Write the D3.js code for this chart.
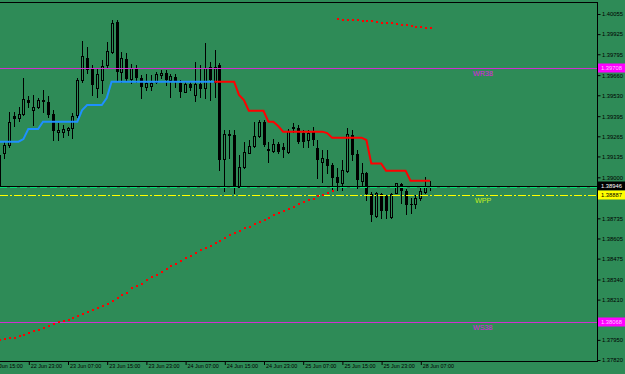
<!DOCTYPE html>
<html><head><meta charset="utf-8">
<script src="https://cdn.jsdelivr.net/npm/d3@7"></script>
<style>html,body{margin:0;padding:0;background:#2E8B57;overflow:hidden}svg{display:block}text{font-family:"Liberation Sans",Arial,sans-serif}</style>
</head><body>
<svg id="c" width="625" height="374"></svg>
<script>
// ---- data (H1 chart, prices) ----
const opens = [1.38950,1.39155,1.39209,1.39398,1.39381,1.39409,1.39499,1.39437,1.39456,1.39499,
1.39488,1.39407,1.39295,1.39295,1.39306,1.39317,1.39403,1.39629,1.39773,1.39704,
1.39575,1.39629,1.39726,1.39811,1.40001,1.39678,1.39764,1.39635,1.39708,1.39643,
1.39585,1.39592,1.39618,1.39661,1.39676,1.39629,1.39650,1.39607,1.39553,1.39603,
1.39532,1.39603,1.39575,1.39715,1.39618,1.39726,1.39116,1.39278,1.39273,1.38939,
1.39069,1.39159,1.39202,1.39267,1.39359,1.39181,1.39172,1.39215,1.39198,1.39165,
1.39327,1.39317,1.39288,1.39241,1.39295,1.39187,1.39101,1.39116,1.39080,1.39004,
1.38965,1.39043,1.39273,1.39149,1.38978,1.39026,1.38892,1.38752,1.38892,1.38879,
1.38742,1.38901,1.38957,1.38914,1.38828,1.38828,1.38864,1.38907,1.38944];
const highs = [1.39176,1.39235,1.39424,1.39424,1.39456,1.39640,1.39525,1.39532,1.39510,1.39564,
1.39525,1.39435,1.39351,1.39338,1.39327,1.39414,1.39640,1.39881,1.39844,1.39726,
1.39704,1.39758,1.39876,1.40016,1.40016,1.39808,1.39806,1.39730,1.39726,1.39661,
1.39665,1.39661,1.39682,1.39693,1.39693,1.39665,1.39665,1.39629,1.39618,1.39618,
1.39747,1.39726,1.39866,1.39747,1.39822,1.39737,1.39306,1.39306,1.39306,1.39144,
1.39230,1.39241,1.39359,1.39370,1.39370,1.39230,1.39246,1.39230,1.39220,1.39310,
1.39353,1.39338,1.39306,1.39306,1.39323,1.39241,1.39176,1.39176,1.39090,1.39058,
1.39112,1.39317,1.39306,1.39176,1.39090,1.39036,1.38907,1.38907,1.38897,1.38886,
1.38897,1.38965,1.38961,1.38925,1.38864,1.38883,1.38929,1.39002,1.38979];
const lows = [1.38937,1.39127,1.39198,1.39331,1.39364,1.39403,1.39456,1.39338,1.39446,1.39424,
1.39392,1.39241,1.39241,1.39262,1.39273,1.39252,1.39392,1.39618,1.39672,1.39532,
1.39521,1.39543,1.39704,1.39803,1.39629,1.39618,1.39625,1.39607,1.39618,1.39514,
1.39564,1.39564,1.39607,1.39640,1.39596,1.39521,1.39585,1.39521,1.39549,1.39564,
1.39493,1.39521,1.39510,1.39499,1.39521,1.39047,1.38912,1.39125,1.38897,1.38937,
1.39058,1.39155,1.39198,1.39260,1.39202,1.39101,1.39165,1.39155,1.39133,1.39159,
1.39295,1.39224,1.39198,1.39198,1.39209,1.38994,1.38972,1.39026,1.38918,1.38918,
1.38918,1.39036,1.39112,1.38929,1.38950,1.38853,1.38720,1.38746,1.38739,1.38739,
1.38735,1.38897,1.38832,1.38765,1.38768,1.38799,1.38853,1.38897,1.38918];
const closes = [1.39144,1.39209,1.39359,1.39379,1.39411,1.39504,1.39482,1.39452,1.39498,1.39488,
1.39403,1.39299,1.39306,1.39310,1.39317,1.39396,1.39629,1.39786,1.39693,1.39596,
1.39665,1.39721,1.39816,1.39995,1.39678,1.39769,1.39637,1.39704,1.39643,1.39585,
1.39607,1.39607,1.39665,1.39672,1.39629,1.39654,1.39618,1.39553,1.39603,1.39575,
1.39603,1.39570,1.39704,1.39629,1.39715,1.39112,1.39278,1.39267,1.38939,1.39069,
1.39165,1.39202,1.39267,1.39359,1.39209,1.39172,1.39215,1.39165,1.39176,1.39301,
1.39310,1.39230,1.39230,1.39288,1.39241,1.39112,1.39123,1.39073,1.38994,1.38961,
1.39047,1.39280,1.39144,1.38983,1.39026,1.38892,1.38757,1.38897,1.38782,1.38784,
1.38892,1.38961,1.38914,1.38818,1.38821,1.38864,1.38912,1.38944,1.38946];
// trend line (blue while rising, red while falling)
const trendLine = [1.39230,1.39230,1.39230,1.39230,1.39230,1.39247,1.39312,1.39312,1.39312,1.39359,
1.39359,1.39359,1.39359,1.39359,1.39359,1.39359,1.39359,1.39435,1.39467,1.39467,
1.39467,1.39467,1.39512,1.39618,1.39618,1.39618,1.39618,1.39618,1.39618,1.39618,
1.39618,1.39618,1.39618,1.39618,1.39618,1.39618,1.39618,1.39618,1.39618,1.39618,
1.39618,1.39618,1.39618,1.39618,1.39618,1.39618,1.39618,1.39618,1.39618,1.39532,
1.39499,1.39430,1.39430,1.39430,1.39430,1.39359,1.39359,1.39331,1.39295,1.39295,
1.39295,1.39295,1.39295,1.39295,1.39295,1.39295,1.39295,1.39286,1.39256,1.39256,
1.39256,1.39256,1.39256,1.39256,1.39256,1.39241,1.39090,1.39090,1.39090,1.39043,
1.39043,1.39043,1.39043,1.39043,1.38978,1.38978,1.38978,1.38978,1.38978];
const trendFlipBar = 44;
// parabolic SAR dots
const sar = [1.37949,1.37955,1.37960,1.37964,1.37973,1.37983,1.37996,1.38005,1.38014,1.38027,
1.38039,1.38050,1.38063,1.38074,1.38080,1.38093,1.38106,1.38117,1.38130,1.38145,
1.38158,1.38171,1.38183,1.38201,1.38218,1.38238,1.38253,1.38283,1.38298,1.38313,
1.38335,1.38354,1.38369,1.38388,1.38406,1.38425,1.38440,1.38461,1.38477,1.38492,
1.38511,1.38528,1.38541,1.38558,1.38574,1.38591,1.38608,1.38625,1.38638,1.38655,
1.38671,1.38681,1.38698,1.38711,1.38726,1.38739,1.38757,1.38768,1.38784,1.38797,
1.38810,1.38826,1.38839,1.38852,1.38862,1.38879,1.38888,1.38901,1.38914,
1.40020,1.40019,1.40018,1.40016,1.40014,1.40012,1.40009,1.40007,1.40003,1.40000,
1.39997,1.39994,1.39990,1.39986,1.39982,1.39978,1.39974,1.39970,1.39966,1.39963];
// levels
const pivotNames = ["WR38","WS38"];
const pivotPrices = [1.39708, 1.38068];
const wppPrice = 1.38887;
const bidPrice = 1.38946;
const openLinePrice = 1.38937;
// axis ticks
const priceTicks = [1.40055,1.39925,1.39795,1.39660,1.39530,1.39395,1.39265,1.39135,1.39000,
1.38735,1.38605,1.38475,1.38340,1.38210,1.37950,1.37820];
const timeTickBars = [-2,6,14,22,30,38,46,54,62,70,78,86];
const timeTickLabels = ["22 Jun 15:00","22 Jun 23:00","23 Jun 07:00","23 Jun 15:00","23 Jun 23:00",
"24 Jun 07:00","24 Jun 15:00","24 Jun 23:00","25 Jun 07:00","25 Jun 15:00","25 Jun 23:00","28 Jun 07:00"];

// ---- drawing ----
const BG = "#2E8B57";
const svg = d3.select("#c");
const plotR = 597, plotB = 361, plotT = 2;
const x = d3.scaleLinear().domain([0, 88]).range([-1.1, 430.1]);
const y = d3.scaleLinear().domain([1.37820, 1.40055]).range([360, 14]);
const fmt = d3.format(".5f");
const FS = 5.8;

svg.append("rect").attr("width",625).attr("height",374).attr("fill",BG);
svg.append("clipPath").attr("id","clip").append("rect")
  .attr("x",0).attr("y",plotT).attr("width",plotR).attr("height",plotB-plotT);
const g = svg.append("g").attr("clip-path","url(#clip)");

// candles
const cg = g.append("g");
d3.range(opens.length).forEach(i=>{
  const cx = Math.round(x(i));
  cg.append("line").attr("x1",cx+0.5).attr("x2",cx+0.5)
    .attr("y1",Math.round(y(highs[i]))).attr("y2",Math.round(y(lows[i]))+1)
    .attr("stroke","#000").attr("stroke-width",1);
  const top = Math.round(y(Math.max(opens[i],closes[i])));
  const bot = Math.round(y(Math.min(opens[i],closes[i])));
  if (closes[i] >= opens[i]) {
    cg.append("rect").attr("x",cx-0.5).attr("y",top+0.5).attr("width",2)
      .attr("height",Math.max(0,bot-top)).attr("fill",BG).attr("stroke","#000").attr("stroke-width",1);
  } else {
    cg.append("rect").attr("x",cx-1).attr("y",top).attr("width",3)
      .attr("height",Math.max(1,bot-top)).attr("fill","#000");
  }
});

// horizontal level lines
pivotPrices.forEach((p,k)=>{
  const yy = Math.round(y(p))+0.5;
  g.append("line").attr("x1",0).attr("x2",plotR).attr("y1",yy).attr("y2",yy)
    .attr("stroke","#D030D0").attr("stroke-width",1);
  g.append("text").attr("x",473).attr("y",yy+7.5).attr("fill","#E020E0")
    .attr("font-size",7.2).text(pivotNames[k]);
});
{
  const yb = Math.round(y(bidPrice))+0.5;
  g.append("line").attr("x1",0).attr("x2",plotR).attr("y1",yb).attr("y2",yb).attr("stroke","#000");
  const yo = Math.round(y(openLinePrice))+0.5;
  g.append("line").attr("x1",0).attr("x2",plotR).attr("y1",yo).attr("y2",yo)
    .attr("stroke","#00E676").attr("stroke-width",1).attr("stroke-dasharray","7,3");
  const yw = Math.round(y(wppPrice))+0.5;
  g.append("line").attr("x1",0).attr("x2",plotR).attr("y1",yw).attr("y2",yw)
    .attr("stroke","#FFFF00").attr("stroke-width",1).attr("stroke-dasharray","8,2,2,2");
  g.append("text").attr("x",475).attr("y",yw+7.5).attr("fill","#C8F020")
    .attr("font-size",7.2).text("WPP");
}

// trend line
const line = d3.line().x(i=>x(i)).y(i=>y(trendLine[i]));
g.append("path").attr("d",line(d3.range(0,trendFlipBar+1))).attr("fill","none")
  .attr("stroke","#1E90FF").attr("stroke-width",2);
g.append("path").attr("d",line(d3.range(trendFlipBar,trendLine.length))).attr("fill","none")
  .attr("stroke","#FF0000").attr("stroke-width",2);

// SAR dots
g.append("g").selectAll("rect").data(sar).join("rect")
  .attr("x",(d,i)=>Math.round(x(i))).attr("y",d=>Math.round(y(d))-1)
  .attr("width",2).attr("height",2).attr("fill","#FF0000");

// frame
svg.append("line").attr("x1",plotR+0.5).attr("x2",plotR+0.5).attr("y1",plotT).attr("y2",plotB+1).attr("stroke","#000");
svg.append("line").attr("x1",0).attr("x2",plotR+1).attr("y1",plotB+0.5).attr("y2",plotB+0.5).attr("stroke","#000");
svg.append("line").attr("x1",0).attr("x2",plotR+1).attr("y1",plotT+0.5).attr("y2",plotT+0.5).attr("stroke","#000");

// price axis
const ya = d3.axisRight(y).tickValues(priceTicks).tickFormat(fmt).tickSize(3).tickPadding(1.5);
const yag = svg.append("g").attr("transform",`translate(${plotR+0.5},0)`).call(ya);
yag.select(".domain").remove();
yag.selectAll("text").attr("font-size",FS).attr("fill","#000").attr("font-family","Liberation Sans, Arial, sans-serif");
yag.selectAll("line").attr("stroke","#000");

// time axis
const xa = d3.axisBottom(x).tickValues(timeTickBars).tickFormat((d,i)=>timeTickLabels[i]).tickSize(4).tickPadding(1);
const xag = svg.append("g").attr("transform",`translate(0.5,${plotB})`).call(xa);
xag.select(".domain").remove();
xag.selectAll("line").attr("stroke","#000");
xag.selectAll("text").attr("text-anchor","start").attr("dx","1.5").attr("dy","0.3em")
  .attr("font-size",5.4).attr("fill","#000").attr("font-family","Liberation Sans, Arial, sans-serif");

// price tags on axis
function tag(price, bg, fg){
  const yy = Math.round(y(price));
  const gt = svg.append("g");
  gt.append("rect").attr("x",plotR+1).attr("y",yy-4.5).attr("width",625-plotR).attr("height",9).attr("fill",bg);
  gt.append("text").attr("x",plotR+4).attr("y",yy+2.2).attr("font-size",FS).attr("fill",fg).text(fmt(price));
}
tag(pivotPrices[0],"#FF00FF","#ffc8ff");
tag(pivotPrices[1],"#FF00FF","#ffc8ff");
tag(bidPrice,"#000000","#ffffff");
tag(wppPrice,"#FFFF00","#000000");
</script>
</body></html>
